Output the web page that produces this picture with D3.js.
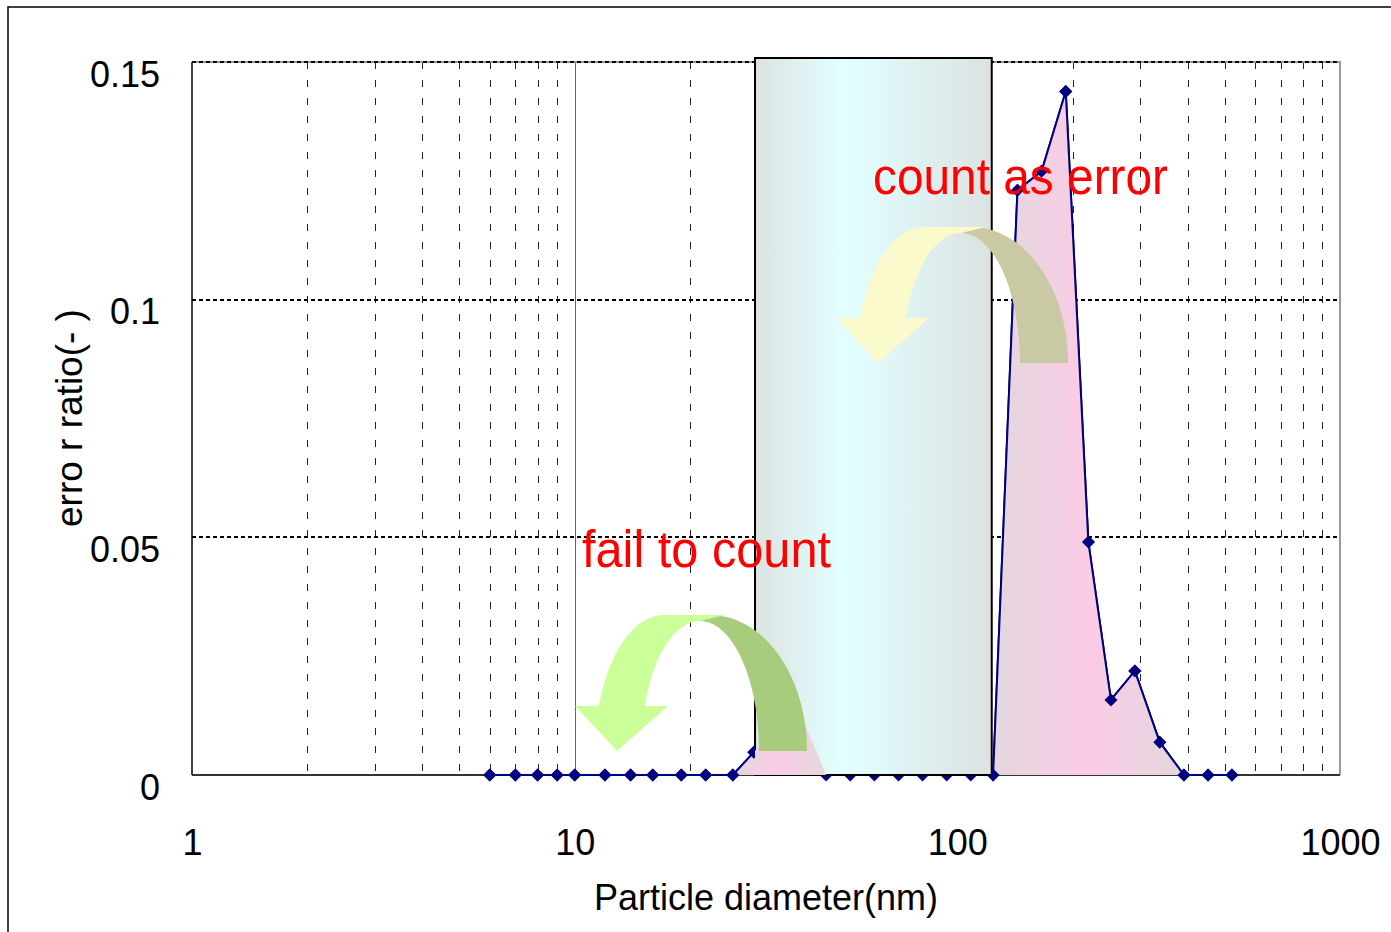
<!DOCTYPE html>
<html>
<head>
<meta charset="utf-8">
<script src="https://cdn.jsdelivr.net/npm/d3@7"></script>
<style>
  html, body { margin: 0; padding: 0; background: #fff; }
  svg { display: block; }
</style>
</head>
<body>
<svg id="chart" width="1391" height="932"></svg>
<script>
// ---------------- data ----------------
const diameters = [6, 7, 8, 9, 10, 12, 14, 16, 19, 22, 25.9, 29.4, 34, 39.3, 45.4, 52.5, 60.7, 70.2, 81.1, 93.8, 108.4, 124, 143.6, 166, 192, 220, 252, 291, 338, 391, 452, 522];
const errorRatio = [0, 0, 0, 0, 0, 0, 0, 0, 0, 0, 0, 0.0048, 0.011, 0.012, 0, 0, 0, 0, 0, 0, 0, 0, 0.123, 0.127, 0.1438, 0.049, 0.0158, 0.0219, 0.0069, 0, 0, 0];
const xTicks = [1, 10, 100, 1000];
const xTickLabels = ["1", "10", "100", "1000"];
const yTicks = [0, 0.05, 0.1, 0.15];
const yTickLabels = ["0", "0.05", "0.1", "0.15"];
const bandRange = [29.6, 123];          // shaded detection window (nm)
const leftPeakRange = [25.9, 45.4];     // "fail to count" region
const rightPeakRange = [124, 391];      // "count as error" region
const xTitle = "Particle diameter(nm)";
const yTitle = "erro r ratio(- )";
const noteError = "count as error";
const noteFail = "fail to count";

// ---------------- layout ----------------
const svg = d3.select("#chart");
const x = d3.scaleLog().domain([1, 1000]).range([192, 1340]);
const y = d3.scaleLinear().domain([0, 0.15]).range([775, 62]);
const pts = diameters.map((d, i) => ({ d, v: errorRatio[i] }));

const defs = svg.append("defs");
const pinkGrad = defs.append("linearGradient").attr("id", "pinkGrad")
  .attr("x1", "0").attr("x2", "1").attr("y1", "0").attr("y2", "0");
pinkGrad.append("stop").attr("offset", "0").attr("stop-color", "#e2d8dd");
pinkGrad.append("stop").attr("offset", "0.5").attr("stop-color", "#fccbe5");
pinkGrad.append("stop").attr("offset", "1").attr("stop-color", "#e2d8dd");
const boxGrad = defs.append("linearGradient").attr("id", "boxGrad")
  .attr("x1", "0").attr("x2", "1").attr("y1", "0").attr("y2", "0");
boxGrad.append("stop").attr("offset", "0").attr("stop-color", "#dde3e3");
boxGrad.append("stop").attr("offset", "0.38").attr("stop-color", "#e2ffff");
boxGrad.append("stop").attr("offset", "1").attr("stop-color", "#dce2e2");

const x0 = x(bandRange[0]), x1 = x(bandRange[1]);
defs.append("clipPath").attr("id", "outsideBand")
  .selectAll("rect").data([[0, x0], [x1, 1391]]).join("rect")
  .attr("x", d => d[0]).attr("y", 0).attr("width", d => d[1] - d[0]).attr("height", 932);

// outer frame
svg.append("rect").attr("x", 8).attr("y", 7).attr("width", 1500).attr("height", 1000)
  .attr("fill", "#fff").attr("stroke", "#000").attr("stroke-width", 1.5);

// ---------------- grid ----------------
const crispX = v => Math.round(v) + 0.5;
const grid = svg.append("g");
const minors = [];
[1, 10, 100].forEach(k => { for (let m = 2; m <= 9; m++) minors.push(k * m); });
grid.selectAll("line.minor").data(minors).join("line")
  .attr("x1", d => crispX(x(d))).attr("x2", d => crispX(x(d)))
  .attr("y1", y(0.15)).attr("y2", y(0))
  .attr("stroke", "#222").attr("stroke-width", 1).attr("stroke-dasharray", "7,11");
grid.selectAll("line.major").data([10, 100]).join("line")
  .attr("x1", d => crispX(x(d))).attr("x2", d => crispX(x(d)))
  .attr("y1", y(0.15)).attr("y2", y(0))
  .attr("stroke", "#666").attr("stroke-width", 1);
// plot frame (top / right gray)
grid.append("path")
  .attr("d", `M${x(1)},${y(0.15)}H${x(1000)}V${y(0)}`)
  .attr("fill", "none").attr("stroke", "#999").attr("stroke-width", 2);
grid.selectAll("line.h").data(yTicks.filter(t => t > 0)).join("line")
  .attr("x1", x(1)).attr("x2", x(1000))
  .attr("y1", d => Math.round(y(d))).attr("y2", d => Math.round(y(d)))
  .attr("stroke", "#000").attr("stroke-width", 2).attr("stroke-dasharray", "4,3");

// axes lines
svg.append("line").attr("x1", x(1)).attr("x2", x(1)).attr("y1", y(0.15)).attr("y2", y(0))
  .attr("stroke", "#000").attr("stroke-width", 1.5);
svg.append("line").attr("x1", x(1)).attr("x2", x(1000)).attr("y1", y(0)).attr("y2", y(0))
  .attr("stroke", "#333").attr("stroke-width", 2);

// tick labels via d3 axes (lines hidden)
const yAxis = svg.append("g").attr("transform", `translate(160,0)`)
  .call(d3.axisLeft(y).tickValues(yTicks).tickFormat((d, i) => yTickLabels[i]).tickSize(0).tickPadding(0));
yAxis.select(".domain").remove();
yAxis.selectAll("text").attr("font-family", "Liberation Sans, Arial, sans-serif")
  .attr("font-size", 36).attr("fill", "#000").attr("dy", "24").attr("text-anchor", "end");

const xAxis = svg.append("g").attr("transform", `translate(0,855)`)
  .call(d3.axisBottom(x).tickValues(xTicks).tickFormat((d, i) => xTickLabels[i]).tickSize(0).tickPadding(0));
xAxis.select(".domain").remove();
xAxis.selectAll("text").attr("font-family", "Liberation Sans, Arial, sans-serif")
  .attr("font-size", 36).attr("fill", "#000").attr("dy", "0");

svg.append("text").attr("x", 766).attr("y", 910).attr("text-anchor", "middle")
  .attr("font-family", "Liberation Sans, Arial, sans-serif").attr("font-size", 36)
  .text(xTitle);
svg.append("text").attr("transform", `translate(82,418) rotate(-90)`).attr("text-anchor", "middle")
  .attr("font-family", "Liberation Sans, Arial, sans-serif").attr("font-size", 37)
  .text(yTitle);

// ---------------- series ----------------
const line = d3.line().x(p => x(p.d)).y(p => y(p.v));
const diamond = "M0,-6.5L6.5,0L0,6.5L-6.5,0Z";
function drawSeries(g) {
  g.append("path").attr("d", line(pts)).attr("fill", "none")
    .attr("stroke", "#000080").attr("stroke-width", 2);
  g.selectAll("path.pt").data(pts).join("path").attr("class", "pt")
    .attr("d", diamond).attr("transform", p => `translate(${x(p.d)},${y(p.v)})`)
    .attr("fill", "#000080");
}
drawSeries(svg.append("g"));

// detection window box
svg.append("rect").attr("x", x0).attr("y", 58).attr("width", x1 - x0).attr("height", y(0) - 58)
  .attr("fill", "url(#boxGrad)").attr("stroke", "#000").attr("stroke-width", 2);

// pink areas
const area = d3.area().x(p => x(p.d)).y0(y(0)).y1(p => y(p.v));
[leftPeakRange, rightPeakRange].forEach(r => {
  svg.append("path").attr("d", area(pts.filter(p => p.d >= r[0] && p.d <= r[1])))
    .attr("fill", "url(#pinkGrad)");
});

// series again outside the box
drawSeries(svg.append("g").attr("clip-path", "url(#outsideBand)"));

// ---------------- curved arrows ----------------
function ell(cx, cy, rx, ry, t0, t1, side, n = 40) {
  const out = [];
  for (let i = 0; i <= n; i++) {
    const t = (t0 + (t1 - t0) * i / n) * Math.PI / 180;
    out.push([cx + side * rx * Math.cos(t), cy - ry * Math.sin(t)]);
  }
  return out;
}
function curvedArrow(ox, oy, light, dark) {
  const g = svg.append("g").attr("transform", `translate(${ox},${oy})`);
  const darkPts = [[232, 136]]
    .concat(ell(135, 136, 97, 136, 0, 90, 1))
    .concat([[125, 2]])
    .concat(ell(125, 136, 59, 130, 90, 0, 1));
  g.append("path").attr("d", "M" + darkPts.join("L") + "Z").attr("fill", dark);
  const tIn = Math.asin(45 / 130) * 180 / Math.PI;
  const tOut = Math.asin(45 / 136) * 180 / Math.PI;
  const lightPts = [[0, 91], [42, 136], [93, 91]]
    .concat(ell(125, 136, 59, 130, tIn, 90, -1))
    .concat([[150, 0]])
    .concat(ell(89, 136, 69, 136, 90, tOut, -1));
  g.append("path").attr("d", "M" + lightPts.join("L") + "Z").attr("fill", light);
}
curvedArrow(575, 615, "#ccff99", "#a7cc7b");
curvedArrow(836, 227, "#fafacc", "#c9c9a3");

// ---------------- notes ----------------
svg.append("text").attr("x", 873).attr("y", 194)
  .attr("font-family", "Liberation Sans, Arial, sans-serif").attr("font-size", 52)
  .attr("fill", "#ff0000").attr("textLength", 295).attr("lengthAdjust", "spacingAndGlyphs")
  .text(noteError);
svg.append("text").attr("x", 582).attr("y", 567)
  .attr("font-family", "Liberation Sans, Arial, sans-serif").attr("font-size", 52)
  .attr("fill", "#ff0000").attr("textLength", 249).attr("lengthAdjust", "spacingAndGlyphs")
  .text(noteFail);
</script>
</body>
</html>
